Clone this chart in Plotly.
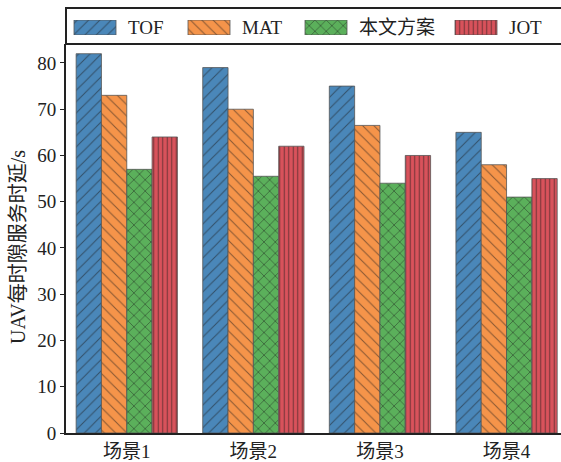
import plotly.graph_objects as go

# Data
scenes = ["场景1", "场景2", "场景3", "场景4"]
series_names = ["TOF", "MAT", "本文方案", "JOT"]
tof = [82, 79, 75, 65]
mat = [73, 70, 66.5, 58]
ours = [57, 55.5, 54, 51]
jot = [64, 62, 60, 55]
y_ticks = [0, 10, 20, 30, 40, 50, 60, 70, 80]

values = [tof, mat, ours, jot]
colors = ["#4a87b9", "#f5944a", "#5bb05b", "#d9525b"]
hatches = ["/", "\\", "x", "|"]
hatch_sizes = [8, 8, 8, 4.5]
hatch_solidity = [0.13, 0.13, 0.2, 0.25]

FONT = "Liberation Serif, Times New Roman, Noto Sans CJK SC, serif"
INK = "#222222"
HATCH_INK = "#1a1a1a"

W, H = 561, 462
ML, MB = 66, 29
plot_h = H - MB          # paper height in px (top margin 0)
plot_w = W - ML
main_top = 433 - 44      # px height of the bar area
main_dom = main_top / plot_h


def bar_marker(col, hat, hs, sol):
    return dict(color=col, line=dict(color="#555555", width=0.8),
                pattern=dict(shape=hat, fgcolor=HATCH_INK, size=hs, solidity=sol))


fig = go.Figure()

for name, vals, col, hat, hs, sol in zip(series_names, values, colors, hatches,
                                          hatch_sizes, hatch_solidity):
    fig.add_trace(go.Bar(
        x=scenes, y=vals, name=name, showlegend=False,
        marker=bar_marker(col, hat, hs, sol),
        xaxis="x", yaxis="y",
    ))

# Legend key swatches drawn as bars on an auxiliary axis above the chart
key_left = [8, 122, 239, 389]    # px offsets of each key from the left spine
key_w = 42
for i, (name, col, hat, hs, sol) in enumerate(zip(series_names, colors, hatches,
                                                  hatch_sizes, hatch_solidity)):
    fig.add_trace(go.Bar(
        x=[key_left[i] + key_w / 2], y=[1], base=0, width=key_w,
        showlegend=False, hoverinfo="skip",
        marker=bar_marker(col, hat, hs, sol),
        xaxis="x2", yaxis="y2",
    ))
    fig.add_annotation(
        x=key_left[i] + key_w + 10, xref="x2", xanchor="left",
        y=(433 - 28) / plot_h, yref="paper", yanchor="middle",
        text=name, showarrow=False,
        font=dict(family=FONT, size=19, color=INK),
    )

# Legend frame
fig.add_shape(type="rect", xref="paper", yref="paper",
              x0=0, x1=1.05, y0=main_dom, y1=(433 - 8) / plot_h,
              line=dict(color=INK, width=2), fillcolor="rgba(0,0,0,0)", layer="above")

# Y axis title
fig.add_annotation(
    x=(18 - ML) / plot_w, xref="paper", xanchor="center",
    y=(433 - 247) / plot_h, yref="paper", yanchor="middle",
    text="UAV每时隙服务时延/s", textangle=-90, showarrow=False,
    font=dict(family=FONT, size=20, color=INK),
)

fig.update_layout(
    width=W, height=H,
    margin=dict(l=ML, r=0, t=0, b=MB, pad=0),
    paper_bgcolor="white", plot_bgcolor="white",
    barmode="group", bargap=0.2, bargroupgap=0,
    font=dict(family=FONT, size=19, color=INK),
    xaxis=dict(domain=[0, 1], range=[-0.48, 3.43], showgrid=False,
               showline=True, linecolor=INK, linewidth=2, ticks="",
               tickfont=dict(family=FONT, size=19, color=INK), anchor="y"),
    yaxis=dict(domain=[0, main_dom], range=[0, 84.1], tickvals=y_ticks,
               showgrid=False, zeroline=False, showline=True, linecolor=INK,
               linewidth=2, ticks="outside", ticklen=4, tickwidth=1,
               tickcolor=INK, tickfont=dict(family=FONT, size=19, color=INK),
               anchor="x"),
    xaxis2=dict(domain=[0, 1], range=[0, plot_w], visible=False, anchor="y2",
                fixedrange=True),
    yaxis2=dict(domain=[(433 - 35) / plot_h, (433 - 20) / plot_h], range=[0, 1],
                visible=False, anchor="x2", fixedrange=True),
)

fig.write_html("out.html")
